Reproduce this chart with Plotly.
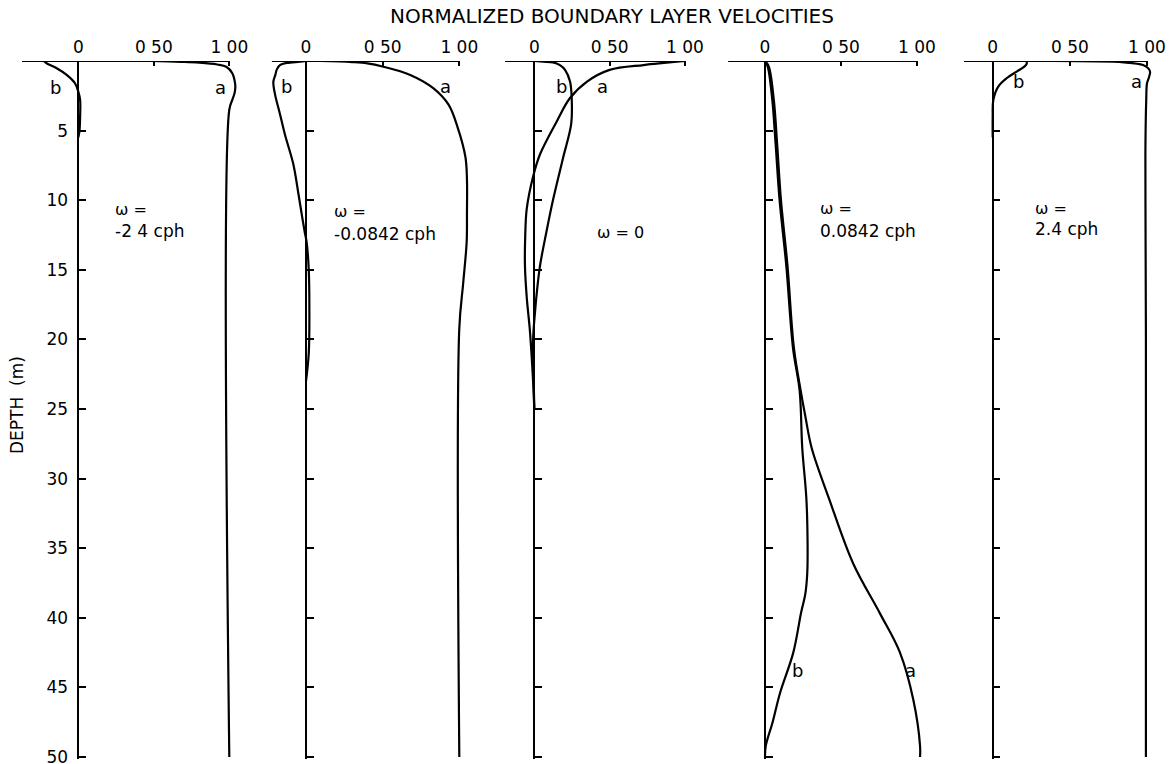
import plotly.graph_objects as go

# ---------------- data ----------------
top_tick_vals = [0, 0.5, 1.0]
top_tick_text = ["0", "0 50", "1 00"]
depth_ticks = [5, 10, 15, 20, 25, 30, 35, 40, 45, 50]

# panel 1 : omega = -2.4 cph
a1_depth = [0, 0.06, 0.12, 0.25, 0.41, 0.88, 1.4, 1.84, 2.3, 2.79, 3.5, 50]
a1_vel = [0.47, 0.68, 0.80, 0.92, 0.98, 1.02, 1.035, 1.04, 1.035, 1.02, 1.0, 1.0]
b1_depth = [0, 0.16, 0.52, 1.0, 1.6, 2.2, 2.8, 4.0, 5.0, 5.5]
b1_vel = [-0.23, -0.21, -0.143, -0.077, -0.022, 0.0, 0.012, 0.012, 0.008, 0.0]

# panel 2 : omega = -0.0842 cph
a2_depth = [0, 0.08, 0.17, 0.41, 1.0, 1.95, 3.14, 4.8, 6.9, 8.5, 11, 13, 16, 19.2, 50]
a2_vel = [0.09, 0.30, 0.40, 0.505, 0.68, 0.83, 0.93, 0.99, 1.04, 1.05, 1.05, 1.048, 1.025, 1.0, 1.0]
b2_depth = [0, 0.05, 0.14, 0.29, 0.6, 1.0, 1.5, 2.4, 3.8, 5.3, 7.4, 9.5, 11, 12.3, 13, 15, 18, 21, 23]
b2_vel = [0.0, -0.04, -0.126, -0.17, -0.19, -0.2, -0.213, -0.202, -0.17, -0.137, -0.083,
          -0.05, -0.028, -0.008, 0.004, 0.018, 0.022, 0.018, 0.0]

# panel 3 : omega = 0
a3_depth = [0, 0.14, 0.29, 0.64, 1.48, 2.66, 4.34, 6.7, 8.26, 10.6, 12.5, 14.7, 17, 19.4, 22.8, 25]
a3_vel = [1.0, 0.86, 0.725, 0.50, 0.35, 0.237, 0.149, 0.038, -0.007, -0.05, -0.06, -0.062,
          -0.05, -0.029, -0.009, 0.0]
b3_depth = [0, 0.05, 0.1, 0.3, 0.64, 1.48, 2.64, 4.5, 7, 9.9, 12.3, 14.7, 16.5, 18, 20, 23, 25]
b3_vel = [0.0, 0.06, 0.124, 0.17, 0.204, 0.237, 0.248, 0.245, 0.19, 0.126, 0.08, 0.038,
          0.018, 0.005, -0.008, -0.004, 0.0]

# panel 4 : omega = 0.0842 cph
a4_depth = [0, 0.4, 2.8, 6, 10, 14.7, 20.6, 23.7, 25.5, 27.8, 31.4, 36.1, 39.7, 42.5, 45.9, 49.2, 50]
a4_vel = [0.0, 0.025, 0.058, 0.08, 0.105, 0.148, 0.19, 0.235, 0.265, 0.307, 0.42, 0.58,
          0.757, 0.888, 0.976, 1.02, 1.02]
b4_depth = [0, 0.4, 2.8, 6, 10, 14.7, 20.6, 23.7, 27.8, 31.4, 34.5, 36.8, 38.3, 39.6, 42.5, 45.4, 47.5, 49.2, 50]
b4_vel = [0.0, 0.018, 0.048, 0.07, 0.096, 0.14, 0.184, 0.228, 0.245, 0.272, 0.28, 0.278,
          0.265, 0.238, 0.186, 0.099, 0.05, 0.005, 0.0]

# panel 5 : omega = 2.4 cph
a5_depth = [0, 0.1, 0.29, 0.55, 0.79, 1.2, 1.6, 2.8, 6, 10, 20, 50]
a5_vel = [0.39, 0.85, 0.975, 1.01, 1.02, 1.012, 1.0, 0.995, 0.99, 0.99, 0.993, 0.993]
b5_depth = [0, 0.2, 0.4, 0.76, 1.24, 1.84, 2.8, 4, 5.5]
b5_vel = [0.22, 0.22, 0.205, 0.155, 0.09, 0.036, 0.004, 0.0, 0.0]

panel_a = [(a1_vel, a1_depth), (a2_vel, a2_depth), (a3_vel, a3_depth), (a4_vel, a4_depth), (a5_vel, a5_depth)]
panel_b = [(b1_vel, b1_depth), (b2_vel, b2_depth), (b3_vel, b3_depth), (b4_vel, b4_depth), (b5_vel, b5_depth)]
omega_line1 = ["ω =", "ω =", "ω = 0", "ω =", "ω ="]
omega_line2 = ["-2 4 cph", "-0.0842 cph", "", "0.0842 cph", "2.4 cph"]
omega_pos = [(0.23, 10.7, 12.2), (0.17, 10.8, 12.4), (0.40, 12.3, None), (0.35, 10.6, 12.2), (0.26, 10.6, 12.1)]
a_label_pos = [(0.94, 1.9), (0.913, 1.8), (0.45, 1.8), (0.96, 43.8), (0.935, 1.45)]
b_label_pos = [(-0.148, 1.9), (-0.13, 1.8), (0.18, 1.8), (0.214, 43.8), (0.17, 1.45)]

# ---------------- layout geometry (pixels) ----------------
W, H = 1175, 764
zero_px = [78.3, 306.0, 534.3, 765.0, 992.7]
unit_px = [151.0, 153.3, 150.7, 152.0, 154.3]
x_min = [-0.373, -0.224, -0.194, -0.243, -0.186]
x_max = 1.1
y_top_px = 61                 # depth 0
y_last_tick_px = 757          # depth of last tick (kept inside the picture with its label)
px_per_m = (y_last_tick_px - y_top_px) / depth_ticks[-1]
y_bot_px = y_last_tick_px + 2 # axis domain end (2 px below the last tick)
depth_max = depth_ticks[-1] + 2 / px_per_m
FONT = "DejaVu Sans"

fig = go.Figure()
layout = dict(
    width=W, height=H, margin=dict(l=0, r=0, t=0, b=0, autoexpand=False),
    paper_bgcolor="white", plot_bgcolor="white", showlegend=False,
    font=dict(family=FONT, color="black", size=17),
)
annotations = []
shapes = []
ydom = [1 - y_bot_px / H, 1 - y_top_px / H]

for i in range(5):
    n = "" if i == 0 else str(i + 1)
    xa, ya = "x" + n, "y" + n
    for vel, dep in (panel_a[i], panel_b[i]):
        fig.add_trace(go.Scatter(x=vel, y=dep, mode="lines", xaxis=xa, yaxis=ya,
                                 line=dict(color="black", width=2.2, shape="spline", smoothing=1.0),
                                 hoverinfo="skip"))
    left = (zero_px[i] + x_min[i] * unit_px[i]) / W
    right = (zero_px[i] + x_max * unit_px[i]) / W
    layout["xaxis" + n] = dict(
        domain=[left, right], range=[x_min[i], x_max], anchor=ya, side="top",
        tickvals=top_tick_vals, ticktext=top_tick_text, ticks="inside", ticklen=5,
        tickwidth=1.5, tickcolor="black", showline=False, showgrid=False, zeroline=False,
        ticklabelstandoff=4, automargin=False,
        tickfont=dict(size=17, family=FONT, color="black"),
    )
    layout["yaxis" + n] = dict(
        domain=ydom, range=[depth_max, 0], anchor="free", position=zero_px[i] / W, side="left",
        tickvals=depth_ticks, ticks="inside", ticklen=7, tickwidth=1.5, tickcolor="black",
        showline=True, linewidth=1.5, linecolor="black", showgrid=False, zeroline=False,
        showticklabels=(i == 0), ticklabelstandoff=6, ticklabeloverflow="allow",
        automargin=False, autoshift=False,
        tickfont=dict(size=17, family=FONT, color="black"),
    )
    # top axis line, from left end of panel to the last tick
    shapes.append(dict(type="line", xref=xa, yref=ya, x0=x_min[i], x1=top_tick_vals[-1],
                       y0=0, y1=0, line=dict(color="black", width=2)))
    ox, oy1, oy2 = omega_pos[i]
    annotations.append(dict(xref=xa, yref=ya, x=ox, y=oy1, text=omega_line1[i], showarrow=False,
                            xanchor="left", yanchor="middle", font=dict(size=16)))
    if oy2 is not None:
        annotations.append(dict(xref=xa, yref=ya, x=ox, y=oy2, text=omega_line2[i], showarrow=False,
                                xanchor="left", yanchor="middle", font=dict(size=17)))
    annotations.append(dict(xref=xa, yref=ya, x=a_label_pos[i][0], y=a_label_pos[i][1], text="a",
                            showarrow=False, xanchor="center", yanchor="middle", font=dict(size=18)))
    annotations.append(dict(xref=xa, yref=ya, x=b_label_pos[i][0], y=b_label_pos[i][1], text="b",
                            showarrow=False, xanchor="center", yanchor="middle", font=dict(size=18)))

annotations.append(dict(xref="paper", yref="paper", x=612 / W, y=1 - 16 / H,
                        text="NORMALIZED BOUNDARY LAYER VELOCITIES", showarrow=False,
                        xanchor="center", yanchor="middle", font=dict(size=20)))
annotations.append(dict(xref="paper", yref="paper", x=17 / W, y=1 - 405 / H, text="DEPTH  (m)",
                        textangle=-90, showarrow=False, xanchor="center", yanchor="middle",
                        font=dict(size=17)))

layout["annotations"] = annotations
layout["shapes"] = shapes
fig.update_layout(**layout)
fig.write_html("out.html")
